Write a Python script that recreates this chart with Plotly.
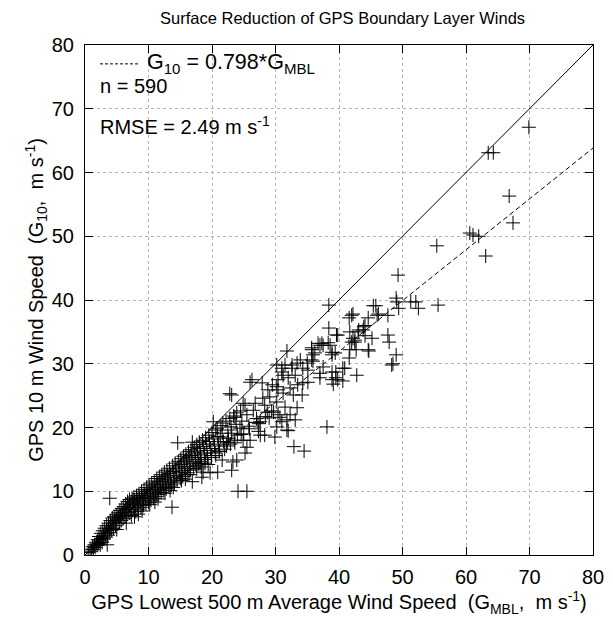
import plotly.graph_objects as go

g_mbl = [
    0.5,0.8,1.0,1.2,1.3,1.5,1.6,1.8,1.9,2.0,2.1,2.2,2.3,2.4,2.5,2.6,2.7,2.8,2.9,3.0,3.1,3.2,3.3,3.4,3.5,3.5,3.6,3.7,3.8,3.9,3.9,4.0,4.1,4.2,4.3,4.4,4.5,4.6,4.7,4.8,4.9,5.0,5.0,
    5.2,5.3,5.4,5.5,5.6,5.7,5.8,5.9,6.0,6.1,6.2,6.3,6.4,6.5,6.6,6.7,6.8,6.9,7.0,7.1,7.2,7.3,7.4,7.5,7.6,7.7,7.8,7.9,8.0,8.1,8.2,8.3,8.4,8.5,8.6,8.7,8.8,8.9,9.0,9.1,9.2,9.3,9.4,9.5,9.6,9.7,9.8,9.9,10.0,
    10.1,10.2,10.3,10.4,10.5,10.6,10.7,10.8,10.9,11.0,11.1,11.2,11.3,11.4,11.5,11.6,11.7,11.8,11.9,12.0,12.1,12.2,12.3,12.4,12.5,12.6,12.7,12.8,12.9,13.0,13.1,13.2,13.3,13.4,13.5,13.6,13.7,13.8,13.9,14.0,14.1,14.2,14.3,14.4,14.5,14.6,14.7,14.8,14.9,15.0,
    15.1,15.2,15.3,15.4,15.5,15.6,15.7,15.8,15.9,16.0,16.1,16.2,16.3,16.4,16.5,16.6,16.7,16.9,16.9,16.8,17.0,17.1,17.2,17.3,17.4,17.5,17.6,17.7,17.8,17.9,18.0,18.1,18.2,18.3,18.4,18.1,18.5,18.6,18.7,18.8,18.9,19.0,19.1,19.2,19.3,19.4,19.5,19.6,19.7,19.8,19.9,20.0,
    20.2,20.2,20.4,20.5,20.6,20.8,20.9,20.9,21.0,21.2,21.3,21.4,21.6,21.6,21.7,21.8,22.0,22.2,22.4,22.5,22.6,22.8,22.8,23.0,23.1,23.1,23.1,23.3,23.4,23.6,23.6,23.8,23.9,23.9,24.0,24.1,24.4,24.5,24.7,24.9,24.9,25.2,25.2,25.5,25.5,25.5,25.8,
    26.0,26.0,26.3,26.5,26.8,27.0,27.3,27.6,27.6,27.9,28.0,28.3,28.3,28.7,28.8,29.0,29.1,29.5,29.9,30.2,30.2,30.2,30.2,30.4,30.4,30.4,30.7,
    31.0,31.0,31.0,31.2,31.2,31.5,31.5,31.8,31.8,31.8,32.0,32.0,32.3,32.3,32.6,32.6,32.8,32.9,33.1,33.1,33.4,33.4,33.5,33.9,34.2,34.3,34.3,34.5,35.0,35.1,35.1,
    35.7,35.7,35.7,35.9,35.9,36.2,36.7,37.0,37.0,37.0,37.3,37.5,37.5,38.1,38.3,38.4,38.4,38.6,38.9,38.9,38.9,38.9,39.1,39.4,39.5,39.5,39.6,39.8,39.8,
    40.6,40.6,40.9,41.6,41.6,41.7,41.7,42.0,42.0,42.2,42.2,42.5,42.5,42.7,42.8,43.0,43.1,43.8,43.9,44.1,44.1,44.6,44.6,44.7,45.2,45.4,45.8,46.0,46.2,47.7,47.7,47.9,48.3,48.5,49.0,49.0,49.1,49.3,49.4,
    51.3,52.1,52.5,55.4,55.6,60.6,61.1,62.0,63.1,63.5,64.3,66.8,67.4,69.9,
    # extra points filling the lower part of the dense band
    6.5,7.8,9.0,10.2,11.5,12.6,13.9,15.2,16.4,17.6,18.9,19.9,21.1,22.3,23.5,24.6,25.9,27.1,28.4,29.4,
    8.4,11.0,13.4,15.8,18.3,20.6,22.9,25.0,27.4,29.7,
]
g_10 = [
    0.4,0.9,0.6,1.3,0.9,1.6,1.2,2.0,1.5,2.4,1.8,2.9,2.2,1.6,3.4,2.6,2.0,3.8,3.0,2.5,4.2,3.4,2.8,4.6,3.8,1.6,3.1,5.0,4.2,8.9,3.5,5.4,4.6,3.9,5.8,5.0,4.2,6.0,5.3,4.6,6.3,5.6,4.0,
    6.6,5.9,5.0,7.0,6.2,5.4,7.3,6.6,5.7,7.6,6.9,6.0,8.0,7.2,6.4,8.4,7.5,6.7,8.7,7.9,7.1,6.2,8.9,8.2,7.4,9.1,8.5,7.7,6.8,9.3,8.8,8.0,7.2,9.6,9.0,8.3,7.5,10.0,9.3,8.6,7.8,10.3,9.6,8.9,8.0,10.6,9.9,9.1,8.3,
    11.0,10.2,9.4,8.6,11.3,10.5,9.7,8.9,11.6,10.8,10.0,9.2,12.0,11.1,10.3,9.5,12.3,11.5,10.6,9.8,12.6,11.8,11.0,10.1,13.0,12.1,11.3,10.4,13.3,12.4,11.6,10.7,13.6,12.8,11.9,11.0,7.5,14.0,13.1,12.2,11.3,14.4,13.5,12.5,11.6,17.6,14.7,13.8,12.9,12.0,
    15.1,14.2,13.2,12.3,15.5,14.6,13.6,12.6,15.8,14.9,13.9,12.9,16.2,15.3,14.3,13.3,16.5,17.7,11.5,15.6,14.6,13.6,16.9,16.0,15.0,14.0,17.3,16.3,15.3,14.3,17.7,16.7,15.7,14.7,12.2,14.4,18.0,13.0,17.0,16.0,15.0,18.4,17.4,16.4,15.3,14.2,18.8,17.8,12.9,16.7,15.6,19.2,
    18.2,20.9,17.1,16.0,19.6,19.9,13.0,18.6,17.4,16.3,18.5,20.3,14.9,19.1,20.7,17.8,16.6,21.0,17.7,19.6,18.3,25.3,21.4,20.1,19.1,13.3,25.1,14.6,21.8,17.6,21.6,20.5,14.9,22.3,18.8,10.0,19.9,22.6,21.0,23.8,18.0,23.5,16.0,22.0,16.9,10.0,20.2,
    27.1,18.0,27.5,22.7,23.8,21.4,19.4,20.9,18.8,27.0,24.6,23.5,18.8,22.4,25.9,21.5,24.8,26.7,18.5,24.0,29.8,20.1,26.4,25.9,22.0,27.5,21.6,
    28.7,20.9,29.3,25.4,28.2,23.2,29.8,32.0,21.2,19.6,27.8,19.5,26.2,22.0,29.8,29.3,25.1,17.0,21.2,28.2,23.1,30.1,26.7,30.6,25.1,29.3,27.0,16.3,30.1,29.0,27.1,
    32.5,32.2,30.6,31.4,30.4,31.7,33.2,32.9,28.5,27.8,33.2,32.9,29.5,20.1,33.3,39.2,35.6,32.9,31.8,31.4,28.7,27.5,26.8,31.7,28.7,27.8,34.5,34.5,27.5,
    29.3,27.3,29.3,37.2,30.9,35.0,32.2,37.6,33.4,37.8,34.0,33.4,33.7,32.2,28.2,35.0,35.3,35.3,35.8,36.0,34.4,37.2,32.2,32.0,34.0,39.1,39.1,37.6,37.8,37.6,34.5,33.4,29.8,30.0,40.3,31.4,39.7,43.9,38.7,
    39.7,39.7,38.7,48.5,39.2,50.5,50.2,50.0,46.9,63.1,63.1,56.3,52.1,67.1,
    5.0,6.0,6.9,7.9,8.8,9.7,10.6,11.7,12.6,13.5,14.4,15.3,16.2,17.1,18.0,18.9,19.8,20.8,21.7,22.6,
    6.4,8.3,10.1,11.9,13.8,15.6,17.4,19.0,20.6,22.4,
]

fit_slope = 0.798
line_x = [0, 80]
one_to_one = [0, 80]
fit_y = [fit_slope * v for v in line_x]

FONT = "Liberation Sans, Arial, Helvetica, sans-serif"
SP = "&nbsp;"

fig = go.Figure()
fig.add_trace(go.Scatter(x=line_x, y=one_to_one, mode="lines",
                         line=dict(color="black", width=1), showlegend=False,
                         hoverinfo="skip"))
fig.add_trace(go.Scatter(x=line_x, y=fit_y, mode="lines",
                         line=dict(color="black", width=1, dash="5px,3px"),
                         showlegend=False, hoverinfo="skip"))
fig.add_trace(go.Scatter(x=g_mbl, y=g_10, mode="markers",
                         marker=dict(symbol="cross-thin", size=10, color="black",
                                     line=dict(color="black", width=1)),
                         showlegend=False))

axis_common = dict(range=[0, 80], dtick=10, showgrid=True, gridcolor="#b4b4b4",
                   griddash="dot", gridwidth=1, zeroline=False, showline=True,
                   linecolor="black", linewidth=1.2, mirror="allticks",
                   ticks="inside", ticklen=8, tickcolor="black", automargin=False,
                   tickfont=dict(family=FONT, size=20, color="black"))

fig.update_xaxes(**axis_common, ticklabelstandoff=4,
                 title=dict(text="GPS Lowest 500 m Average Wind Speed" + SP * 2 + "(G<sub>MBL</sub>," + SP * 2 + "m s<sup>-1</sup>)",
                            font=dict(family=FONT, size=20, color="black"), standoff=6))
fig.update_yaxes(**axis_common, ticklabelstandoff=6,
                 title=dict(text="GPS 10 m Wind Speed" + SP * 2 + "(G<sub>10</sub>," + SP * 2 + "m s<sup>-1</sup>)",
                            font=dict(family=FONT, size=20, color="black"), standoff=2))

# legend sample and text annotations
fig.add_shape(type="line", xref="paper", yref="paper", x0=0.0295, x1=0.108,
              y0=0.963, y1=0.963, line=dict(color="black", width=1, dash="3px,2px"))
fig.add_annotation(xref="paper", yref="paper", x=0.118, y=0.963, xanchor="left",
                   yanchor="middle", showarrow=False,
                   text="G<sub>10</sub> = 0.798*G<sub>MBL</sub>",
                   font=dict(family=FONT, size=21.5, color="black"))
fig.add_annotation(xref="paper", yref="paper", x=0.025, y=0.92, xanchor="left",
                   yanchor="middle", showarrow=False, text="n = 590",
                   font=dict(family=FONT, size=20, color="black"))
fig.add_annotation(xref="paper", yref="paper", x=0.025, y=0.843, xanchor="left",
                   yanchor="middle", showarrow=False, text="RMSE = 2.49 m s<sup>-1</sup>",
                   font=dict(family=FONT, size=20, color="black"))

fig.update_layout(
    width=605, height=614,
    margin=dict(l=77, r=20, t=37, b=67),
    paper_bgcolor="white", plot_bgcolor="white",
    title=dict(text="Surface Reduction of GPS Boundary Layer Winds",
               x=0.553, xanchor="center", y=0.984, yanchor="middle",
               font=dict(family=FONT, size=16.5, color="black")),
    showlegend=False,
)

fig.write_html("out.html")
